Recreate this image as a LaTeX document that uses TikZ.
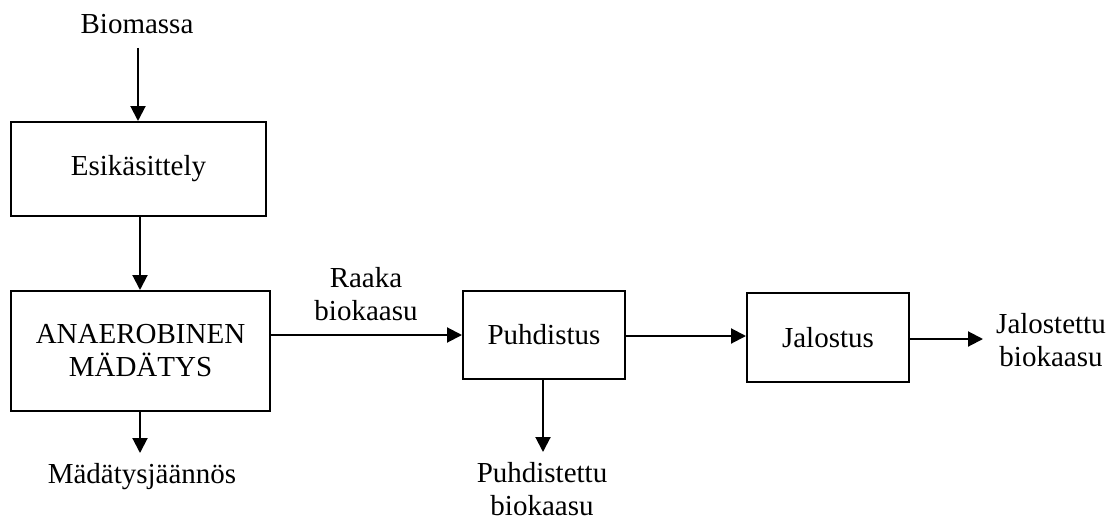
\documentclass[tikz,border=0pt]{standalone}
\usepackage{fontspec}
\setmainfont{Liberation Serif}
\usetikzlibrary{arrows.meta}
\begin{document}
\begin{tikzpicture}[x=1pt,y=1pt,
  every node/.style={font=\fontsize{29}{33}\selectfont},
  blk/.style={draw,line width=2pt,inner sep=0pt,align=center},
  lbl/.style={inner sep=0pt,align=center},
  arr/.style={line width=2pt,-{Triangle[length=15pt,width=15pt]}}]
\useasboundingbox (0,0) rectangle (1115,-519);
\node[lbl,anchor=base] (bio) at (137,-34) {Biomassa};
\node[blk,minimum width=255pt,minimum height=94pt] (esi) at (138.5,-169) {Esikäsittely};
\node[blk,minimum width=259pt,minimum height=120pt] (ana) at (140.5,-351) {ANAEROBINEN\\MÄDÄTYS};
\node[lbl,anchor=base] (mad) at (142,-483) {Mädätysjäännös};
\node[blk,minimum width=162pt,minimum height=88pt] (puh) at (544,-335) {Puhdistus};
\node[blk,minimum width=162pt,minimum height=89pt] (jal) at (828,-337.5) {Jalostus};
\node[lbl] (raaka) at (366,-294) {Raaka\\biokaasu};
\node[lbl] (pout) at (542,-489) {Puhdistettu\\biokaasu};
\node[lbl] (jout) at (1051,-340) {Jalostettu\\biokaasu};
\coordinate (bioend) at (138,-48);
\draw[arr] (bioend) -- (bioend |- esi.north);
\draw[arr] (esi.south -| 140,0) -- (ana.north -| 140,0);
\draw[arr] (ana.south -| 140,0) -- (140,-453);
\draw[arr] (ana.east |- puh.west) -- (puh.west);
\draw[arr] (puh.east |- 0,-336) -- (jal.west |- 0,-336);
\draw[arr] (jal.east |- 0,-339) -- (983,-339);
\draw[arr] (puh.south -| 543,0) -- (543,-452);
\end{tikzpicture}
\end{document}
